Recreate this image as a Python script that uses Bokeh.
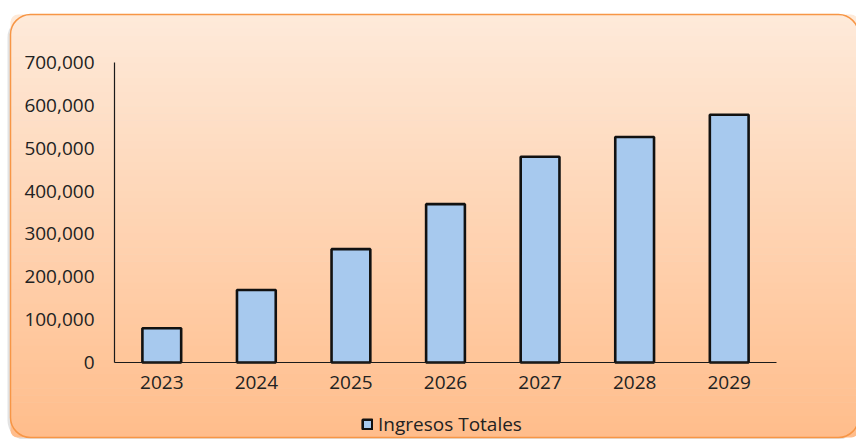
from bokeh.plotting import figure
from bokeh.models import (ColumnDataSource, Range1d, FixedTicker, LinearAxis,
                          NumeralTickFormatter, BoxAnnotation, Legend, LegendItem)
from bokeh.embed import file_html
from bokeh.resources import INLINE

# Data
years = ["2023", "2024", "2025", "2026", "2027", "2028", "2029"]
ingresos_totales = [80000, 169000, 264500, 369500, 480000, 526000, 578000]
y_ticks = [0, 100000, 200000, 300000, 400000, 500000, 600000, 700000]
series_name = "Ingresos Totales"

W, H = 856, 439
FONT = "Open Sans"
TEXT = "#222222"

# Plot area placement inside the card (pixels from the top-left corner)
area_left, area_right, area_top, area_bottom = 114, 776, 62, 362
y_max = 700000
n = len(years)
px_per_cat = (area_right - area_left) / n
px_per_unit = (area_bottom - area_top) / y_max

x_start = -area_left / px_per_cat
x_end = n + (W - area_right) / px_per_cat
y_start = -(H - area_bottom) / px_per_unit
y_end = y_max + area_top / px_per_unit

x_pos = [i + 0.5 for i in range(n)]
source = ColumnDataSource(data=dict(x=x_pos, year=years, value=ingresos_totales))

p = figure(width=W, height=H, x_range=Range1d(x_start, x_end),
           y_range=Range1d(y_start, y_end),
           output_backend="svg", toolbar_location=None,
           x_axis_location=None, y_axis_location=None, min_border=0)
p.border_fill_color = "white"
p.background_fill_color = "white"
p.outline_line_color = None
p.grid.visible = False

# Rounded card with a vertical peach gradient, drawn behind the chart
box_l, box_r, box_t, box_b = 10, 858, 14, 437
radius = 20


def card_box(left, right, top, bottom, **kw):
    return BoxAnnotation(left=left, right=right, top=top, bottom=bottom,
                         left_units="canvas", right_units="canvas",
                         top_units="canvas", bottom_units="canvas",
                         level="underlay", **kw)


p.add_layout(card_box(box_l - 3, box_r - 3, box_t + 3, box_b + 3,
                      fill_color="#808080", fill_alpha=0.22, line_color=None,
                      border_radius=radius))

c_top = (254, 234, 218)
c_bot = (255, 189, 139)
n_strips = 60
edges = [box_t + (box_b - box_t) * i / n_strips for i in range(n_strips + 1)]
for i in range(n_strips):
    t = (i + 0.5) / n_strips
    col = tuple(int(round(a + (b - a) * t)) for a, b in zip(c_top, c_bot))
    hexcol = "#%02x%02x%02x" % col
    bottom = edges[i + 1] + (0.6 if i < n_strips - 1 else 0)
    br = 0
    if i == 0:
        br = (radius, radius, 0, 0)
    elif i == n_strips - 1:
        br = (0, 0, radius, radius)
    p.add_layout(card_box(box_l, box_r, edges[i], bottom,
                          fill_color=hexcol, fill_alpha=1.0, line_color=None,
                          border_radius=br))

p.add_layout(card_box(box_l, box_r, box_t, box_b, fill_alpha=0,
                      line_color="#F79646", line_alpha=1.0, line_width=1.5,
                      border_radius=radius))

# Bars
bars = p.vbar(x="x", top="value", width=0.41, source=source,
              fill_color="#A7C9EE", line_color="#111111", line_width=2.6)

# Axes pinned to the plot area
yaxis = LinearAxis(fixed_location=0, bounds=(0, y_max),
                   ticker=FixedTicker(ticks=y_ticks),
                   formatter=NumeralTickFormatter(format="0,0"),
                   major_label_standoff=20)
xaxis = LinearAxis(fixed_location=0, bounds=(0, n),
                   ticker=FixedTicker(ticks=x_pos),
                   major_label_overrides={x: y for x, y in zip(x_pos, years)},
                   major_label_standoff=13)
for ax in (xaxis, yaxis):
    ax.major_tick_line_color = None
    ax.minor_tick_line_color = None
    ax.major_tick_out = 0
    ax.major_tick_in = 0
    ax.axis_line_color = "#1a1a1a"
    ax.axis_line_width = 1.2
    ax.major_label_text_font = FONT
    ax.major_label_text_font_size = "19px"
    ax.major_label_text_color = TEXT
p.add_layout(yaxis, "left")
p.add_layout(xaxis, "below")

# Legend under the category labels
legend = Legend(items=[LegendItem(label=series_name, renderers=[bars])],
                location=(361, 2), orientation="horizontal",
                background_fill_alpha=0, border_line_color=None,
                padding=0, margin=0, glyph_width=12, glyph_height=12,
                label_standoff=5, label_text_font=FONT,
                label_text_font_size="19px", label_text_color=TEXT)
p.add_layout(legend)

open("out.html", "w").write(file_html(p, INLINE))
